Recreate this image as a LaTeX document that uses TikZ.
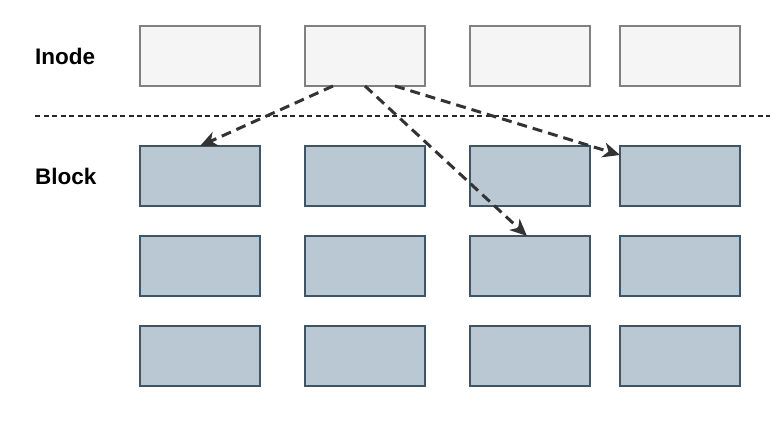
\documentclass[tikz,border=0pt]{standalone}
\usepackage{fontspec}
\setmainfont{Liberation Sans}
\usetikzlibrary{arrows.meta}
\definecolor{inodefill}{HTML}{F5F5F5}
\definecolor{inodedraw}{HTML}{808080}
\definecolor{blockfill}{HTML}{BAC8D3}
\definecolor{blockdraw}{HTML}{3C5569}
\definecolor{arrowcol}{HTML}{333333}
\tikzset{
  inodebox/.style={draw=inodedraw, fill=inodefill, line width=1.5pt, minimum width=120pt, minimum height=60pt, inner sep=0pt, outer sep=0pt},
  blockbox/.style={draw=blockdraw, fill=blockfill, line width=1.5pt, minimum width=120pt, minimum height=60pt, inner sep=0pt, outer sep=0pt},
  lbl/.style={font=\fontsize{22.5}{25}\selectfont\bfseries, anchor=west, inner sep=0pt},
  ptr/.style={draw=arrowcol, line width=3pt, dash pattern=on 10pt off 6pt, -{Stealth[length=17pt,width=15pt,inset=5pt]}},
  divider/.style={draw=black!85, line width=1.3pt, dash pattern=on 5pt off 3.5pt}
}
\begin{document}
\begin{tikzpicture}[x=1pt,y=-1pt]
\useasboundingbox (0,0) rectangle (783,440);
\fill[white] (0,0) rectangle (783,440);
% labels
\node[lbl] (linode) at (35,56) {Inode};
\node[lbl] (lblock) at (35,176) {Block};
% inodes
\node[inodebox] (i1) at (200,56) {};
\node[inodebox] (i2) at (365,56) {};
\node[inodebox] (i3) at (530,56) {};
\node[inodebox] (i4) at (680,56) {};
% divider
\coordinate (dl) at (35,116);
\coordinate (dr) at (770,116);
\draw[divider] (dl) -- (dr);
% blocks
\foreach \r/\y in {1/176,2/266,3/356}{
  \node[blockbox] (b\r1) at (200,\y) {};
  \node[blockbox] (b\r2) at (365,\y) {};
  \node[blockbox] (b\r3) at (530,\y) {};
  \node[blockbox] (b\r4) at (680,\y) {};
}
% pointers
\draw[ptr] ([xshift=-32pt]i2.south) -- (b11.north);
\draw[ptr] (i2.south) -- ([xshift=-3pt]b23.north);
\draw[ptr] ([xshift=30pt]i2.south) -- ([yshift=-9pt]b14.north west);
\end{tikzpicture}
\end{document}
